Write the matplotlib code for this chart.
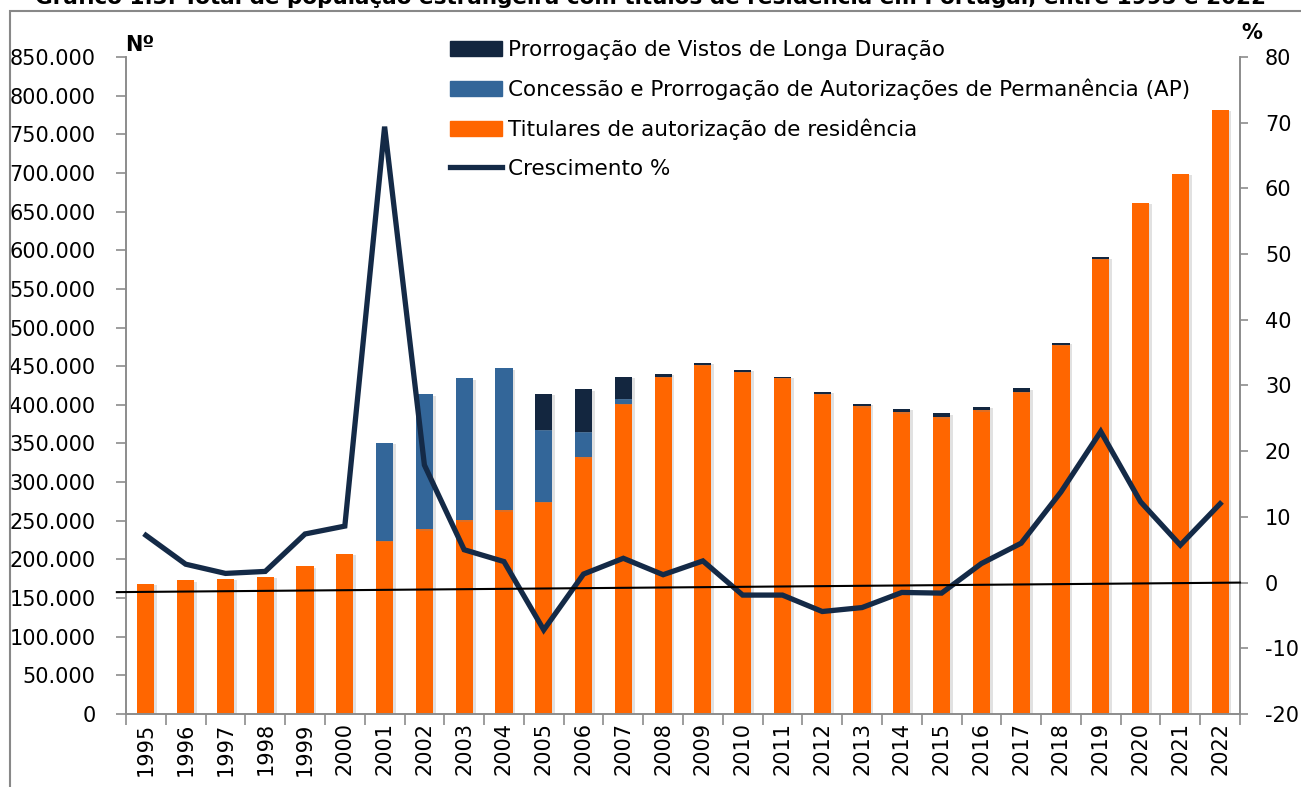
import matplotlib
matplotlib.use("Agg")
import matplotlib.pyplot as plt
import matplotlib.patheffects as pe
from matplotlib.patches import Rectangle, Patch
from matplotlib.lines import Line2D
from matplotlib.ticker import FuncFormatter, MultipleLocator, FixedLocator
import numpy as np

years = [str(y) for y in range(1995, 2023)]
titulares = [168300, 172900, 175300, 177800, 190900, 207600, 224000, 238900, 250700, 263300,
             274600, 332100, 401600, 436000, 451700, 443100, 434700, 414600, 398300, 390100,
             383800, 393000, 416700, 477500, 589000, 661600, 698900, 781900]
concessao_ap = [0, 0, 0, 0, 0, 0, 126900, 174600, 183700, 183800,
                93400, 32700, 6000, 0, 0, 0, 0, 0, 0, 0,
                0, 0, 0, 0, 0, 0, 0, 0]
vistos = [0, 0, 0, 0, 0, 0, 0, 0, 0, 0,
          46600, 55400, 28400, 4300, 2400, 2200, 1900, 2400, 3100, 5100,
          5000, 4800, 4700, 2800, 1700, 0, 0, 0]
crescimento = [7.2, 2.8, 1.4, 1.7, 7.4, 8.6, 69.4, 17.9, 5.0, 3.2,
               -7.2, 1.3, 3.7, 1.2, 3.3, -1.9, -1.9, -4.4, -3.8, -1.5,
               -1.6, 2.9, 6.0, 13.8, 23.0, 12.3, 5.7, 12.0]
trend_ends = [-1.45, 0.0]

labels = ["Prorrogação de Vistos de Longa Duração",
          "Concessão e Prorrogação de Autorizações de Permanência (AP)",
          "Titulares de autorização de residência",
          "Crescimento %"]
title = ("Gráfico 1.3. Total de população estrangeira com títulos de residência "
         "em Portugal, entre 1995 e 2022")

c_orange = "#FF6600"
c_blue = "#336699"
c_dark = "#13263F"
c_line = "#142A47"
c_spine = "#8C8C8C"

plt.rcParams['font.family'] = ['DejaVu Sans']
plt.rcParams['axes.unicode_minus'] = False
FS = 15

W, H = 1301, 787
fig = plt.figure(figsize=(W / 100, H / 100), dpi=100)
ax = fig.add_axes([126 / W, 1 - 714 / H, (1240 - 126) / W, (714 - 57) / H])
ax2 = ax.twinx()

x = np.arange(len(years))
bw = 0.43
shadow = [pe.SimplePatchShadow(offset=(2, -1), shadow_rgbFace='#888888', alpha=0.25), pe.Normal()]
tit = np.array(titulares)
ap = np.array(concessao_ap)
vi = np.array(vistos)
b1 = ax.bar(x, tit, bw, color=c_orange, zorder=2)
b2 = ax.bar(x, ap, bw, bottom=tit, color=c_blue, zorder=2)
b3 = ax.bar(x, vi, bw, bottom=tit + ap, color=c_dark, zorder=2)
for bars in (b1, b2, b3):
    for p in bars:
        p.set_path_effects(shadow)

ax.set_xlim(-0.5, len(years) - 0.5)
ax.set_ylim(0, 850000)
ax.yaxis.set_major_locator(MultipleLocator(50000))
ax.yaxis.set_major_formatter(FuncFormatter(lambda v, p: f"{int(v):,}".replace(",", ".")))
ax.set_xticks(x)
ax.set_xticklabels(years, rotation=90, fontsize=FS)
ax.xaxis.set_minor_locator(FixedLocator(np.arange(-0.5, len(years), 1.0)))
ax.tick_params(axis='x', which='major', length=0, pad=6)
ax.tick_params(axis='x', which='minor', length=8, width=1.2, color=c_spine, direction='out')
ax.tick_params(axis='y', length=7, width=1.2, color=c_spine, labelsize=FS, pad=15)

ax2.plot(x, crescimento, color=c_line, lw=3.8, solid_joinstyle='miter', zorder=5)
ax2.plot([-0.73, len(years) - 0.5], trend_ends, color='black', lw=1.5, clip_on=False, zorder=6)
ax2.set_ylim(-20, 80)
ax2.yaxis.set_major_locator(MultipleLocator(10))
ax2.tick_params(axis='y', length=6, width=1.2, color=c_spine, labelsize=FS, pad=12)

for a in (ax, ax2):
    a.spines['top'].set_visible(False)
    for s in ('left', 'right', 'bottom'):
        a.spines[s].set_color(c_spine)
        a.spines[s].set_linewidth(1.2)

handles = [Patch(color=c_dark), Patch(color=c_blue), Patch(color=c_orange),
           Line2D([], [], color=c_line, lw=3.8)]
fig.legend(handles, labels, loc='upper left', bbox_to_anchor=(450 / W, 1 - 40 / H),
           frameon=False, fontsize=15.5, handlelength=2.4, handleheight=0.75,
           handletextpad=0.3, labelspacing=0.86, borderaxespad=0, borderpad=0)

fig.text(125 / W, 1 - 45 / H, "Nº", fontsize=FS, fontweight='bold', ha='left', va='center')
fig.text(1252 / W, 1 - 33 / H, "%", fontsize=FS, fontweight='bold', ha='center', va='center')
fig.text(0.5, 1 - 4 / H, title, fontsize=15.5, fontweight='bold', ha='center', va='baseline')

fig.patches.append(Rectangle((10 / W, -0.05), 1.2, 1 - 11 / H + 0.05, transform=fig.transFigure,
                             fill=False, edgecolor='#888888', lw=1.5))

fig.savefig("out.png", dpi=100)
